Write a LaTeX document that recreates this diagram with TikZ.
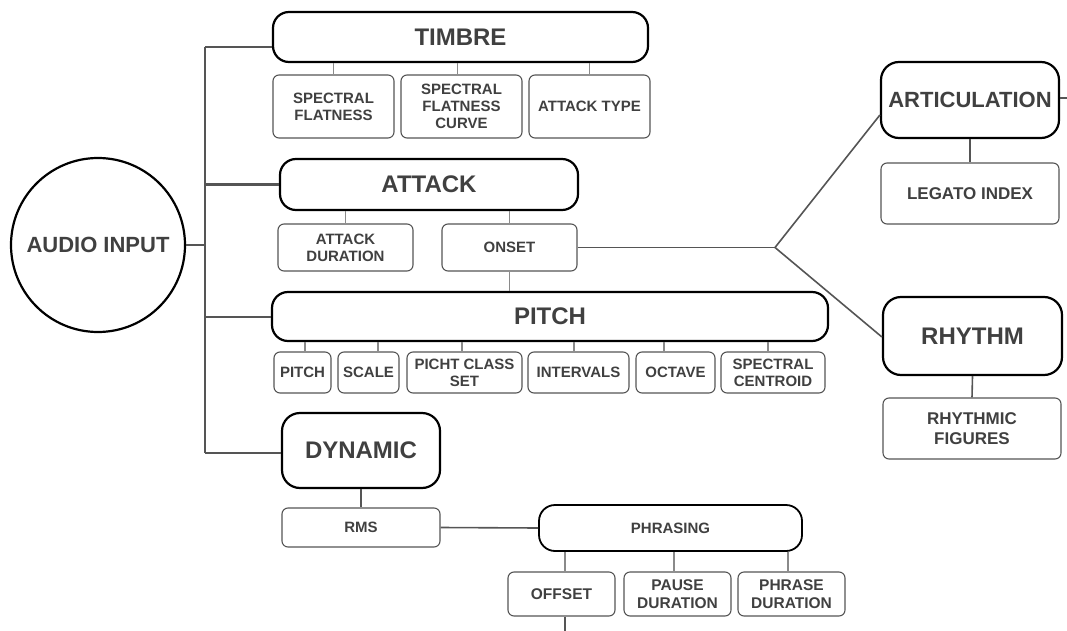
\documentclass[tikz,border=0pt]{standalone}
\usepackage{fontspec}
\setmainfont{Liberation Sans}
\definecolor{txt}{HTML}{404040}
\definecolor{edge}{HTML}{555555}
\definecolor{thin}{HTML}{8A8A8A}
\begin{document}
\begin{tikzpicture}[x=1pt,y=-1pt,
  every node/.style={inner sep=0pt, text=txt, align=center},
  mainbox/.style={draw=black, line width=2.2pt, rounded corners=16pt,
    font=\fontsize{24}{26}\selectfont\bfseries},
  subbox/.style={draw=edge, line width=1.1pt, rounded corners=6pt,
    font=\fontsize{15}{17}\selectfont\bfseries},
  trunk/.style={draw=edge, line width=2pt},
  link/.style={draw=edge, line width=1.6pt},
  twig/.style={draw=thin, line width=1.1pt}]
\useasboundingbox (0,0) rectangle (1067,631);

% source
\node[draw=black, line width=2.2pt, circle, minimum size=174pt,
  font=\fontsize{22}{24}\selectfont\bfseries] (audio) at (98,245) {AUDIO INPUT};

% timbre branch
\node[mainbox, minimum width=375pt, minimum height=50pt] (timbre) at (460.5,37) {TIMBRE};
\node[subbox, minimum width=121pt, minimum height=63pt] (sf) at (333.5,106.5) {SPECTRAL\\FLATNESS};
\node[subbox, minimum width=121pt, minimum height=63pt] (sfc) at (461.5,106.5) {SPECTRAL\\FLATNESS\\CURVE};
\node[subbox, minimum width=121pt, minimum height=63pt] (atype) at (589.5,106.5) {ATTACK TYPE};

% attack branch
\node[mainbox, minimum width=298pt, minimum height=51pt] (attack) at (429,184.5) {ATTACK};
\node[subbox, minimum width=135pt, minimum height=47pt] (adur) at (345.5,247.5) {ATTACK\\DURATION};
\node[subbox, minimum width=135pt, minimum height=47pt] (onset) at (509.5,247.5) {ONSET};

% pitch branch
\node[mainbox, minimum width=556pt, minimum height=49pt] (pitch) at (550,316.5) {PITCH};
\node[subbox, minimum width=57pt, minimum height=41pt] (p1) at (302.5,372.5) {PITCH};
\node[subbox, minimum width=61pt, minimum height=41pt] (scale) at (368.5,372.5) {SCALE};
\node[subbox, minimum width=115pt, minimum height=41pt] (pcs) at (464.5,372.5) {PICHT CLASS\\SET};
\node[subbox, minimum width=101pt, minimum height=41pt] (intervals) at (578.5,372.5) {INTERVALS};
\node[subbox, minimum width=79pt, minimum height=41pt] (octave) at (675.5,372.5) {OCTAVE};
\node[subbox, minimum width=104pt, minimum height=41pt] (scentroid) at (773,372.5) {SPECTRAL\\CENTROID};

% dynamic branch
\node[mainbox, rounded corners=18pt, minimum width=158pt, minimum height=75pt] (dynamic) at (361,450.5) {DYNAMIC};
\node[subbox, minimum width=158pt, minimum height=39pt] (rms) at (361,527.5) {RMS};
\node[mainbox, line width=1.8pt, minimum width=263pt, minimum height=46pt,
  font=\fontsize{15}{17}\selectfont\bfseries] (phrasing) at (670.5,528) {PHRASING};
\node[subbox, minimum width=107pt, minimum height=44pt, font=\fontsize{15.5}{18}\selectfont\bfseries] (offset) at (561.5,594) {OFFSET};
\node[subbox, minimum width=107pt, minimum height=44pt, font=\fontsize{15.5}{18}\selectfont\bfseries] (pause) at (677.5,594) {PAUSE\\DURATION};
\node[subbox, minimum width=107pt, minimum height=44pt, font=\fontsize{15.5}{18}\selectfont\bfseries] (phrase) at (791.5,594) {PHRASE\\DURATION};

% right-hand column
\node[mainbox, rounded corners=18pt, minimum width=178pt, minimum height=76pt,
  font=\fontsize{22}{24}\selectfont\bfseries] (artic) at (970,100) {ARTICULATION};
\node[subbox, minimum width=178pt, minimum height=61pt, font=\fontsize{17}{20}\selectfont\bfseries] (legato) at (970,193.5) {LEGATO INDEX};
\node[mainbox, rounded corners=18pt, minimum width=179pt, minimum height=78pt] (rhythm) at (972.5,336) {RHYTHM};
\node[subbox, minimum width=178pt, minimum height=61pt, font=\fontsize{17}{20}\selectfont\bfseries] (rfig) at (972,428.5) {RHYTHMIC\\FIGURES};

% connector points
\coordinate (tT) at (205,47);
\coordinate (tB) at (205,453);
\coordinate (j) at (775,247.5);
\coordinate (artOut) at (1067,98);
\coordinate (offOut) at (565,631);

% main trunk
\draw[trunk] (audio.east) -- (audio.east -| tT);
\draw[trunk] (tT) -- (tB);
\draw[trunk] (tT) -- ([yshift=-10pt]timbre.west);
\draw[trunk] (attack.west -| tT) -- (attack.west);
\draw[trunk] (pitch.west -| tT) -- (pitch.west);
\draw[trunk] (tB) -- (tB -| dynamic.west);

% timbre features
\draw[twig] (sf.north) -- (sf.north |- timbre.south);
\draw[twig] ([xshift=-4pt]sfc.north) -- ([xshift=-4pt]sfc.north |- timbre.south);
\draw[twig] (atype.north) -- (atype.north |- timbre.south);

% attack features
\draw[twig] (adur.north) -- (adur.north |- attack.south);
\draw[twig] (onset.north) -- (onset.north |- attack.south);
\draw[twig] (onset.south) -- (onset.south |- pitch.north);

% pitch features
\draw[twig] ([xshift=2.5pt]p1.north) -- ([xshift=2.5pt]p1.north |- pitch.south);
\draw[twig] ([xshift=9.5pt]scale.north) -- ([xshift=9.5pt]scale.north |- pitch.south);
\draw[twig] ([xshift=-2.5pt]pcs.north) -- ([xshift=-2.5pt]pcs.north |- pitch.south);
\draw[twig] ([xshift=-4.5pt]intervals.north) -- ([xshift=-4.5pt]intervals.north |- pitch.south);
\draw[twig] ([xshift=-11.5pt]octave.north) -- ([xshift=-11.5pt]octave.north |- pitch.south);
\draw[twig] ([xshift=-5pt]scentroid.north) -- ([xshift=-5pt]scentroid.north |- pitch.south);

% onset to articulation and rhythm
\draw[link] (onset.east) -- (j);
\draw[link] (j) -- ([yshift=-15pt]artic.west);
\draw[link] (j) -- ([yshift=-1pt]rhythm.west);
\draw[link] (artic.south) -- (legato.north);
\draw[link] (rhythm.south) -- (rfig.north);
\draw[link] ([yshift=2pt]artic.east) -- (artOut);

% dynamic and phrasing
\draw[link] (dynamic.south) -- (rms.north);
\draw[link] (rms.east) -- (phrasing.west);
\draw[twig] ([xshift=3.5pt]offset.north) -- ([xshift=3.5pt]offset.north |- phrasing.south);
\draw[twig] ([xshift=-3.5pt]pause.north) -- ([xshift=-3.5pt]pause.north |- phrasing.south);
\draw[twig] ([xshift=-3.5pt]phrase.north) -- ([xshift=-3.5pt]phrase.north |- phrasing.south);
\draw[link] ([xshift=3.5pt]offset.south) -- ([xshift=3.5pt]offset.south |- offOut);
\end{tikzpicture}
\end{document}
